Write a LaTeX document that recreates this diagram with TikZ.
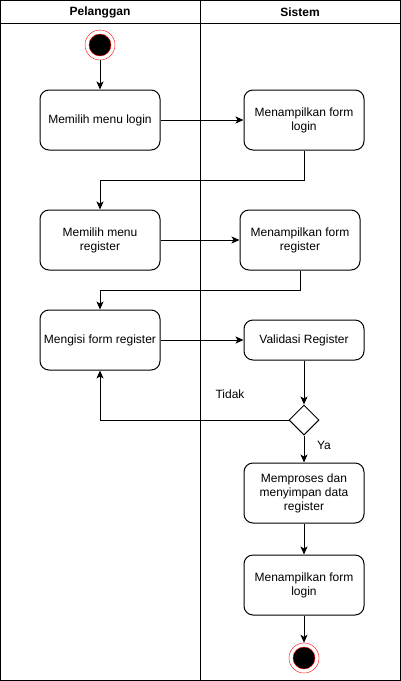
\documentclass[tikz,border=0pt]{standalone}
\usepackage{fontspec}
\setmainfont{Liberation Sans}
\usetikzlibrary{arrows.meta,shapes.geometric}
\tikzset{
  actbox/.style = 	{shape=rectangle, rounded corners=9pt,
				draw, align=center, line width=1pt,
				minimum width=120pt, minimum height=60pt,
				inner sep=2pt, fill=white},
  smallbox/.style = 	{actbox, minimum height=40pt},
  decide/.style = 	{shape=diamond, draw, line width=1pt,
				minimum width=30pt, minimum height=30pt,
				inner sep=0pt, fill=white},
  flow/.style = 	{draw, line width=1pt, -{Stealth[length=8pt,width=7pt,inset=2pt]}},
  lane/.style = 	{draw, line width=1pt},
}

\begin{document}
\begin{tikzpicture}
	[
		x                 = 1pt,
		y                 = -1pt,
		every node/.style = {font=\fontsize{12}{14}\selectfont}
	]
	\useasboundingbox (0,0) rectangle (401,681);
	% swimlanes
	\draw [lane] (0.5,0.5) rectangle (400.5,680.5);
	\draw [lane] (0.5,23.5) -- (400.5,23.5);
	\draw [lane] (200.5,0.5) -- (200.5,680.5);
	\node [font=\fontsize{12}{14}\selectfont\bfseries] (pelanggan) at (100,12) {Pelanggan};
	\node [font=\fontsize{12}{14}\selectfont\bfseries] (sistem) at (300,12) {Sistem};
	% start and end
	\node [circle, draw=red, fill=white, minimum size=30pt, inner sep=0pt] (start) at (100,45) {};
	\node [circle, draw=red, fill=black, minimum size=22pt, inner sep=0pt] at (100,45) {};
	\node [circle, draw=red, fill=white, minimum size=30pt, inner sep=0pt] (finish) at (304,658) {};
	\node [circle, draw=red, fill=black, minimum size=22pt, inner sep=0pt] at (304,658) {};
	% activities
	\node [actbox] (login) at (100,120) {Memilih menu login};
	\node [actbox] (formlogin) at (304,120) {Menampilkan form\\login};
	\node [actbox] (register) at (100,240) {Memilih menu\\register};
	\node [actbox] (formreg) at (300,240) {Menampilkan form\\register};
	\node [actbox] (isi) at (100,340) {Mengisi form register};
	\node [smallbox] (validasi) at (304,340) {Validasi Register};
	\node [decide] (valid) at (304,420) {};
	\node [actbox] (simpan) at (304,493) {Memproses dan\\menyimpan data\\register};
	\node [actbox] (formlogin2) at (304,585) {Menampilkan form\\login};
	% connectors
	\draw [flow] (start) -- (login);
	\draw [flow] (login) -- (formlogin);
	\draw [flow] (formlogin.south) |- (100,180) -- (register.north);
	\draw [flow] (register) -- (formreg);
	\draw [flow] (formreg.south) |- (100,290) -- (isi.north);
	\draw [flow] (isi) -- (validasi);
	\draw [flow] (validasi) -- (valid);
	\draw [flow] (valid.west) -| (isi.south);
	\draw [flow] (valid) -- (simpan);
	\draw [flow] (simpan) -- (formlogin2);
	\draw [flow] (formlogin2) -- (finish);
	% guards
	\node (tidak) at (230,394) {Tidak};
	\node (ya) at (324,445) {Ya};
\end{tikzpicture}
\end{document}
